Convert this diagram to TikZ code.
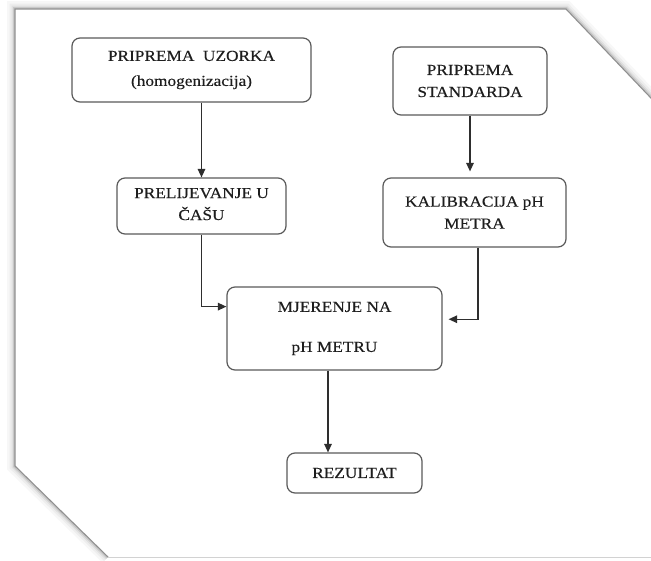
\documentclass[tikz,border=0pt]{standalone}
\usepackage{fontspec}
\setmainfont[FakeStretch=1.13,FakeBold=0.3]{Liberation Serif}
\usetikzlibrary{arrows.meta,calc}
\definecolor{boxgray}{HTML}{5A5A5A}
\definecolor{linegray}{HTML}{2E2E2E}
\definecolor{txt}{HTML}{1E1E1E}
\definecolor{edgegray}{HTML}{909090}
\begin{document}
\begin{tikzpicture}[x=1pt,y=-1pt,
  box/.style={draw=boxgray, line width=1.2pt, rounded corners=8pt, align=center,
    inner sep=0pt, text=txt, font=\fontsize{15.3pt}{22pt}\selectfont},
  conn/.style={draw=linegray, line width=1.3pt, -{Triangle[length=8.5pt,width=7.5pt]}},
  paneledge/.style={edgegray, line width=1.1pt, line join=miter}]
\useasboundingbox (0,0) rectangle (651,560);
\fill[white] (0,0) rectangle (651,560);
% panel shadow
\foreach \w/\o in {16/0.03, 11/0.04, 7/0.06, 4/0.1}
  \draw[black, opacity=\o, line width=\w pt, line join=miter]
    (108,557) -- (15,466) -- (15,9) -- (566,9) -- (670,118);
\fill[white] (15,9) -- (566,9) -- (670,118) -- (670,557) -- (108,557) -- (15,466) -- cycle;
\draw[paneledge] (108,557) -- (15,466) -- (15,9) -- (566,9) -- (670,118);
\draw[gray!35, line width=1pt] (108,557) -- (670,557);
% boxes
\node[box, minimum width=239pt, minimum height=64pt] (b1) at (191.5,70) {PRIPREMA\ \ UZORKA\\[3pt](homogenizacija)};
\node[box, minimum width=154pt, minimum height=68pt] (b2) at (470,81) {PRIPREMA\\STANDARDA};
\node[box, minimum width=169pt, minimum height=56pt, text depth=4pt] (b3) at (201.5,206) {PRELIJEVANJE U\\ČAŠU};
\node[box, minimum width=183pt, minimum height=69pt] (b4) at (474.5,212.5) {KALIBRACIJA pH\\METRA};
\node[box, minimum width=215pt, minimum height=83pt] (b5) at (334.5,328.5) {MJERENJE NA\\[18pt]pH METRU};
\node[box, minimum width=135pt, minimum height=40pt] (b6) at (354.5,473) {REZULTAT};
% connectors
\draw[conn] (b3.north |- b1.south) -- (b3.north);
\draw[conn] (b2.south) -- ([yshift=6pt]b2.south |- b4.north);
\draw[conn] (b3.south) |- ($(b5.north west)!0.24!(b5.south west)$);
\draw[conn] ([xshift=3.5pt]b4.south) |- ([xshift=6pt]$(b5.north east)!0.39!(b5.south east)$);
\draw[conn] ([xshift=-6.5pt]b5.south) coordinate (m5) -- (m5 |- b6.north);
\end{tikzpicture}
\end{document}
